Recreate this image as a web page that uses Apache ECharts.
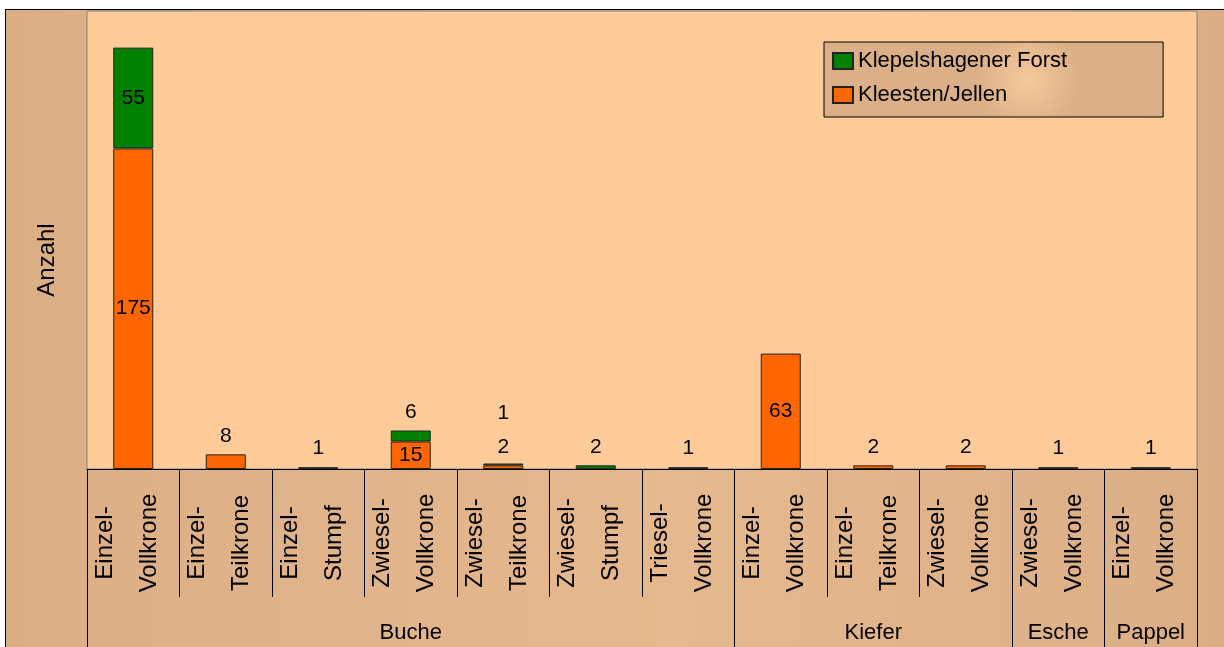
<!DOCTYPE html>
<html>

<head>
    <meta charset="utf-8">
    <title>Anzahl</title>
    <script src="https://cdn.jsdelivr.net/npm/echarts@6/dist/echarts.min.js"></script>
    <style>
        body { margin: 0; background: #fff; }
        #main {
            position: absolute; left: 5px; top: 9px;
            width: 1218px; height: 637px;
            border-top: 1px solid #000; border-left: 1px solid #000;
        }
    </style>
</head>

<body>
    <div id="main"></div>
    <script type="text/javascript">
    // Baumart (Gruppe) und Typ je Säule
    var groups = ['Buche', 'Buche', 'Buche', 'Buche', 'Buche', 'Buche', 'Buche',
        'Kiefer', 'Kiefer', 'Kiefer', 'Esche', 'Pappel'];
    var types = ['Einzel-\nVollkrone', 'Einzel-\nTeilkrone', 'Einzel-\nStumpf', 'Zwiesel-\nVollkrone',
        'Zwiesel-\nTeilkrone', 'Zwiesel-\nStumpf', 'Triesel-\nVollkrone', 'Einzel-\nVollkrone',
        'Einzel-\nTeilkrone', 'Zwiesel-\nVollkrone', 'Zwiesel-\nVollkrone', 'Einzel-\nVollkrone'];
    var kleesten = [175, 8, 0, 15, 2, 0, 1, 63, 2, 2, 1, 1];
    var klepelshagen = [55, 0, 1, 6, 1, 2, 0, 0, 0, 0, 0, 0];

    var font = "'Liberation Sans', Arial, sans-serif";
    var keys = types.map((t, i) => groups[i] + '|' + t);

    // mittlere Säule jeder Gruppe trägt den Gruppennamen
    var groupCenter = {};
    groups.forEach((g, i) => {
        var idx = groups.map((x, j) => x === g ? j : -1).filter(j => j >= 0);
        groupCenter[idx[Math.floor(idx.length / 2)]] = g;
    });
    var groupStart = i => i === 0 || groups[i] !== groups[i - 1];

    function labelFor(val, other, upper) {
        if (val >= 10) return { show: true, position: 'inside' };
        // beide klein: obere Beschriftung weiter nach oben
        var dist = (upper && other > 0 && other < 10) ? 40 : 8;
        return { show: true, position: 'top', distance: dist };
    }

    var myChart = echarts.init(document.getElementById('main'));
    var option = {
        backgroundColor: {
            type: 'linear', x: 0, y: 0, x2: 1, y2: 0,
            colorStops: [{ offset: 0, color: '#dcae86' }, { offset: 0.55, color: '#e6b88e' }, { offset: 1, color: '#dcae86' }]
        },
        animation: false,
        textStyle: { fontFamily: font },
        grid: {
            left: 81, top: 1, width: 1110, height: 458,
            show: true, backgroundColor: '#ffcc99', borderColor: '#808080', borderWidth: 1
        },
        legend: {
            data: ['Klepelshagener Forst', 'Kleesten/Jellen'],
            orient: 'vertical',
            left: 818, top: 32,
            padding: [8, 96, 11, 8],
            icon: 'rect',
            itemWidth: 20, itemHeight: 16, itemGap: 12,
            selectedMode: false,
            backgroundColor: {
                type: 'radial', x: 0.6, y: 0.5, r: 0.7,
                colorStops: [{ offset: 0, color: '#f6c99c' }, { offset: 1, color: '#dbaf87' }]
            },
            borderColor: '#000', borderWidth: 1,
            textStyle: { fontSize: 22, color: '#000', fontFamily: font }
        },
        xAxis: [
            {
                type: 'category',
                data: keys,
                position: 'bottom',
                axisLine: { lineStyle: { color: '#000' } },
                axisTick: { show: true, interval: 0, length: 128, lineStyle: { color: '#000' } },
                axisLabel: {
                    interval: 0, rotate: 90, margin: 74,
                    align: 'center', verticalAlign: 'middle',
                    lineHeight: 44,
                    fontSize: 24, color: '#000', fontFamily: font,
                    rich: { s: { lineHeight: 12, fontSize: 4 } },
                    // kleine Leerzeile unten verschiebt beide Zeilen etwas nach links
                    formatter: v => v.split('|')[1] + '\n{s| }'
                }
            },
            {
                type: 'category',
                data: keys,
                position: 'bottom',
                offset: 0,
                axisLine: { show: false },
                axisTick: { show: true, interval: i => groupStart(i), length: 180, lineStyle: { color: '#000' } },
                axisLabel: {
                    interval: 0, margin: 153,
                    fontSize: 22, color: '#000', fontFamily: font,
                    formatter: (v, i) => groupCenter[i] || ''
                }
            }
        ],
        yAxis: {
            type: 'value',
            min: 0, max: 250,
            name: 'Anzahl',
            nameLocation: 'middle',
            nameGap: 28,
            nameRotate: 90,
            nameTextStyle: { fontSize: 24, color: '#000', fontFamily: font, padding: [0, 40, 0, 0] },
            axisLine: { show: false },
            axisTick: { show: false },
            axisLabel: { show: false },
            splitLine: { show: false }
        },
        series: [
            {
                name: 'Kleesten/Jellen',
                type: 'bar',
                stack: 'a',
                barWidth: 40,
                itemStyle: { color: '#ff6600', borderColor: '#222', borderWidth: 1 },
                label: { fontSize: 21, color: '#000', fontFamily: font },
                data: kleesten.map((v, i) => v > 0 ? { value: v, label: labelFor(v, klepelshagen[i], false) } : null)
            },
            {
                name: 'Klepelshagener Forst',
                type: 'bar',
                stack: 'a',
                barWidth: 40,
                itemStyle: { color: '#008000', borderColor: '#222', borderWidth: 1 },
                label: { fontSize: 21, color: '#000', fontFamily: font },
                data: klepelshagen.map((v, i) => v > 0 ? { value: v, label: labelFor(v, kleesten[i], true) } : null)
            }
        ]
    };
    myChart.setOption(option);
    </script>
</body>

</html>
